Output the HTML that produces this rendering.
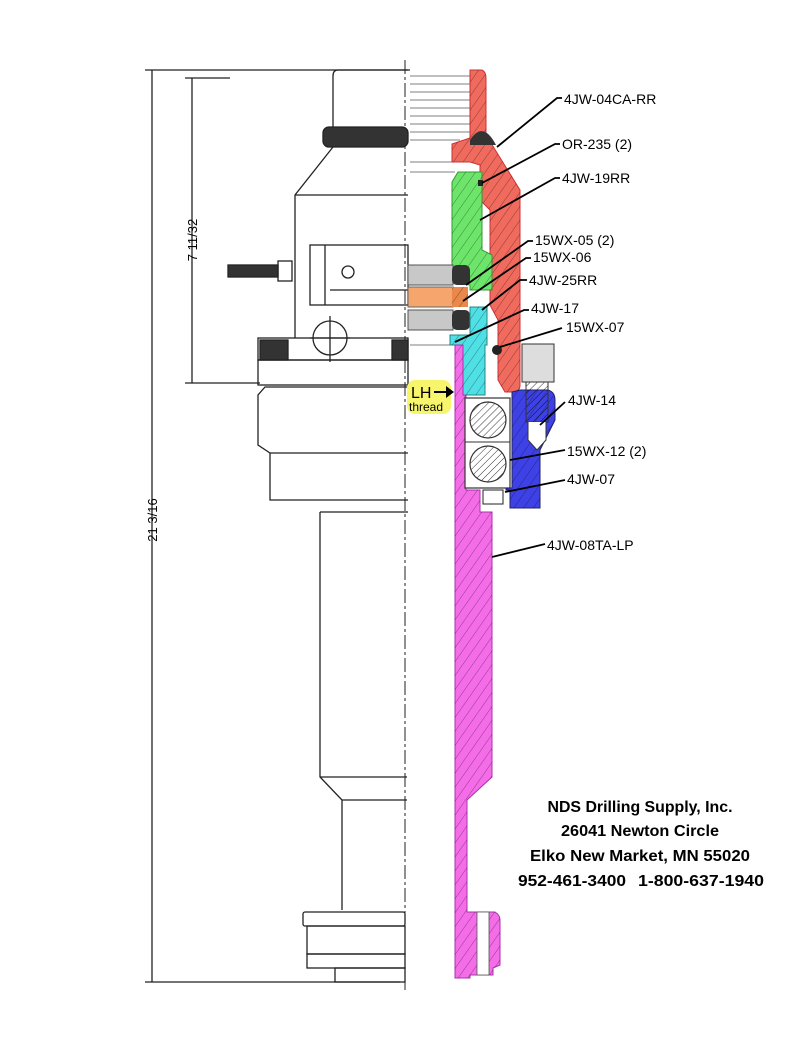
<!DOCTYPE html>
<html><head><meta charset="utf-8"><style>
html,body{margin:0;padding:0;background:#fff;}
svg{display:block;}
.lbl{font-family:"Liberation Sans",sans-serif;font-size:14px;fill:#000;}
.addr{font-family:"Liberation Sans",sans-serif;font-weight:bold;font-size:16px;fill:#000;}
</style></head><body>
<svg width="811" height="1050" viewBox="0 0 811 1050" xmlns="http://www.w3.org/2000/svg">
<defs>
<pattern id="h" width="8" height="8" patternUnits="userSpaceOnUse" patternTransform="rotate(35)">
<line x1="0" y1="0" x2="0" y2="8" stroke="#000" stroke-width="0.7" opacity="0.6"/></pattern>
<pattern id="hd" width="5" height="5" patternUnits="userSpaceOnUse" patternTransform="rotate(45)">
<line x1="0" y1="0" x2="0" y2="5" stroke="#000" stroke-width="0.8"/></pattern>
</defs>
<g fill="none" stroke="#222" stroke-width="1.3">
<line x1="152" y1="70" x2="152" y2="982"/>
<line x1="145" y1="70" x2="410" y2="70"/>
<line x1="145" y1="982" x2="400" y2="982"/>
<line x1="192" y1="78" x2="192" y2="383"/>
<line x1="185" y1="78" x2="230" y2="78"/>
<line x1="185" y1="383" x2="260" y2="383"/>
<line x1="405" y1="60" x2="405" y2="990" stroke-dasharray="14,3,3,3" stroke-width="1"/>
<path d="M408 70 H338 Q333 70 333 76 V127"/>
<rect x="323" y="127" width="85" height="20" fill="#333" rx="6"/>
<path d="M333 147 L295 195 V338 M295 195 H408"/>
<rect x="310" y="245" width="98" height="60"/>
<line x1="325" y1="245" x2="325" y2="305"/>
<line x1="330" y1="290" x2="408" y2="290"/>
<rect x="228" y="265" width="50" height="12" fill="#333"/>
<rect x="278" y="261" width="14" height="20"/>
<circle cx="348" cy="272" r="6"/>
<circle cx="330" cy="338" r="17"/>
<line x1="310" y1="338" x2="350" y2="338"/>
<line x1="330" y1="316" x2="330" y2="362"/>
<rect x="258" y="338" width="150" height="22"/>
<rect x="260" y="340" width="28" height="20" fill="#333"/>
<rect x="392" y="340" width="16" height="20" fill="#333"/>
<rect x="258" y="360" width="150" height="25"/>
<path d="M408 387 H265 L258 395 V445 L270 453 H408"/>
<path d="M270 453 V500 H408"/>
<path d="M320 512 H408 M320 512 V777 L342 800 V910 M320 777 H407 M342 800 H407"/>
<rect x="303" y="912" width="102" height="14" rx="2"/>
<rect x="307" y="926" width="98" height="28"/>
<rect x="307" y="954" width="98" height="14"/>
<rect x="335" y="968" width="70" height="14"/>
</g>
<g stroke="#555" stroke-width="0.8">
<line x1="410" y1="76" x2="470" y2="76"/><line x1="410" y1="84" x2="470" y2="84"/><line x1="410" y1="92" x2="470" y2="92"/>
<line x1="410" y1="100" x2="470" y2="100"/><line x1="410" y1="108" x2="470" y2="108"/><line x1="410" y1="116" x2="470" y2="116"/>
<line x1="410" y1="124" x2="470" y2="124"/><line x1="410" y1="132" x2="470" y2="132"/><line x1="410" y1="140" x2="460" y2="140"/>
<line x1="410" y1="162" x2="480" y2="162"/><line x1="410" y1="172" x2="455" y2="172"/>
<line x1="410" y1="345" x2="455" y2="345"/>
</g>
<path d="M470 70 H482 Q486 72 486 78 V135 L520 190 V385 Q520 392 512 392 H505 L498 380 V320 L490 305 V210 L480 200 V165 L470 162 H452 V144 L470 138 Z" fill="#f06a5e" stroke="#c33" stroke-width="1"/>
<path d="M470 70 H482 Q486 72 486 78 V135 L520 190 V385 Q520 392 512 392 H505 L498 380 V320 L490 305 V210 L480 200 V165 L470 162 H452 V144 L470 138 Z" fill="url(#h)"/>
<path d="M470 140 Q483 120 496 145 H470 Z" fill="#333"/>
<path d="M458 172 H482 V250 L492 255 V290 H470 V285 L452 282 V182 Z" fill="#6de56b" stroke="#393" stroke-width="1"/>
<path d="M458 172 H482 V250 L492 255 V290 H470 V285 L452 282 V182 Z" fill="url(#h)"/>
<rect x="478" y="180" width="5" height="6" fill="#222"/>
<rect x="408" y="265" width="45" height="20" fill="#c8c8c8" stroke="#555"/>
<rect x="408" y="287" width="45" height="20" fill="#f6a56d" stroke="#666"/>
<rect x="452" y="287" width="16" height="20" fill="#e9884a"/>
<rect x="452" y="287" width="16" height="20" fill="url(#h)"/>
<rect x="408" y="310" width="45" height="20" fill="#c8c8c8" stroke="#555"/>
<rect x="452" y="265" width="18" height="20" rx="5" fill="#333"/>
<rect x="452" y="310" width="18" height="20" rx="5" fill="#333"/>
<path d="M470 307 H487 V345 H485 V395 H463 V345 H450 V335 H470 Z" fill="#4fe0e6" stroke="#288" stroke-width="1"/>
<path d="M470 307 H487 V345 H485 V395 H463 V345 H450 V335 H470 Z" fill="url(#h)"/>
<path d="M455 345 H463 V395 H466 V490 H480 V512 H492 V777 L467 800 V912 H495 Q500 915 500 920 V965 L493 968 V975 H470 V978 H455 Z" fill="#f56ce9" stroke="#a3a" stroke-width="1"/>
<path d="M455 345 H463 V395 H466 V490 H480 V512 H492 V777 L467 800 V912 H495 Q500 915 500 920 V965 L493 968 V975 H470 V978 H455 Z" fill="url(#h)"/>
<rect x="477" y="912" width="12" height="63" fill="#fff" stroke="#555" stroke-width="0.8"/>
<rect x="465" y="398" width="45" height="90" fill="#fff" stroke="#333" stroke-width="1.2"/>
<line x1="465" y1="442" x2="510" y2="442" stroke="#333"/>
<circle cx="488" cy="420" r="18" fill="url(#hd)" stroke="#333" stroke-width="1.2"/>
<circle cx="488" cy="464" r="18" fill="url(#hd)" stroke="#333" stroke-width="1.2"/>
<path d="M520 390 H548 Q555 392 555 400 V420 L540 450 V508 H510 V490 H506 V488 H512 V392 Z" fill="#3e42e6" stroke="#226" stroke-width="1"/>
<path d="M520 390 H548 Q555 392 555 400 V420 L540 450 V508 H510 V490 H506 V488 H512 V392 Z" fill="url(#h)"/>
<rect x="483" y="490" width="20" height="14" fill="#fff" stroke="#222"/>
<rect x="522" y="344" width="32" height="38" fill="#ddd" stroke="#333"/>
<rect x="526" y="382" width="22" height="40" fill="url(#hd)" stroke="#333"/>
<path d="M528 422 V440 L537 450 L546 440 V422" fill="#fff" stroke="#333"/>
<circle cx="497" cy="350" r="5" fill="#222"/>
<rect x="407" y="380" width="44" height="34" rx="8" fill="#f7f56c"/>
<text x="411" y="398" style="font-family:'Liberation Sans',sans-serif;font-size:16px">LH</text>
<text x="409" y="411" style="font-family:'Liberation Sans',sans-serif;font-size:12px">thread</text>
<path d="M434 391 H446 V386 L454 392 L446 398 V393 H434 Z" fill="#000"/>
<text transform="translate(157,520) rotate(-90)" style="font-family:'Liberation Sans',sans-serif;font-size:13px" text-anchor="middle">21  3/16</text>
<text transform="translate(197,240) rotate(-90)" style="font-family:'Liberation Sans',sans-serif;font-size:13px" text-anchor="middle">7  11/32</text>
<g stroke="#000" stroke-width="1.8" fill="none">
<path d="M497 147 L557 98 H562"/>
<path d="M482 183 L555 144 H560"/>
<path d="M480 220 L555 178 H560"/>
<path d="M466 285 L528 241 H533"/>
<path d="M463 301 L526 258 H531"/>
<path d="M482 310 L520 280 H527"/>
<path d="M455 342 L524 310 H529"/>
<path d="M500 347 L562 328"/>
<path d="M540 425 L565 402"/>
<path d="M510 460 L565 450"/>
<path d="M505 492 L565 480"/>
<path d="M492 557 L545 544"/>
</g>
<g class="lbl">
<text x="564" y="104">4JW-04CA-RR</text>
<text x="562" y="149">OR-235 (2)</text>
<text x="562" y="183">4JW-19RR</text>
<text x="535" y="245">15WX-05 (2)</text>
<text x="533" y="262">15WX-06</text>
<text x="529" y="285">4JW-25RR</text>
<text x="531" y="313">4JW-17</text>
<text x="566" y="332">15WX-07</text>
<text x="568" y="405">4JW-14</text>
<text x="567" y="456">15WX-12 (2)</text>
<text x="567" y="484">4JW-07</text>
<text x="547" y="550">4JW-08TA-LP</text>
</g>
<g class="addr" text-anchor="middle">
<text x="640" y="812" textLength="185" lengthAdjust="spacingAndGlyphs">NDS Drilling Supply, Inc.</text>
<text x="640" y="836" textLength="158" lengthAdjust="spacingAndGlyphs">26041 Newton Circle</text>
<text x="640" y="861" textLength="220" lengthAdjust="spacingAndGlyphs">Elko New Market, MN 55020</text>
<text x="572" y="886" textLength="108" lengthAdjust="spacingAndGlyphs">952-461-3400</text>
<text x="701" y="886" textLength="126" lengthAdjust="spacingAndGlyphs">1-800-637-1940</text>
</g>
</svg>
</body></html>
